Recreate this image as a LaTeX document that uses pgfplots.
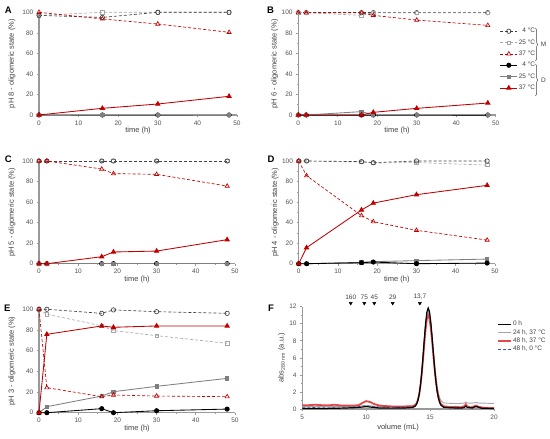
\documentclass[border=0pt]{standalone}
\usepackage{fontspec}
\setmainfont{Liberation Sans}
\usepackage{pgfplots}
\pgfplotsset{compat=1.18}
\usetikzlibrary{decorations.pathreplacing}
\definecolor{mred}{HTML}{C00000}
\definecolor{mdark}{HTML}{404040}
\definecolor{mlight}{HTML}{A6A6A6}
\definecolor{dgray}{HTML}{7F7F7F}
\definecolor{axgray}{HTML}{999999}
\definecolor{tickgray}{HTML}{505050}
\definecolor{fred}{HTML}{E02828}
\definecolor{fblue}{HTML}{3A5BAA}
\newcommand{\tk}{\fontsize{6.5}{7.5}\selectfont}
\newcommand{\lb}{\fontsize{7.5}{8.5}\selectfont}
\pgfplotsset{
 base/.style={
  scale only axis, anchor=south west, clip=false,
  axis x line=bottom, axis y line=left,
  axis line style={-, axgray, line width=1.1pt},
  tick align=outside, major tick length=2.2pt, minor tick length=1.3pt,
  tick style={axgray, line width=0.6pt},
  ticklabel style={font=\tk, text=tickgray},
  label style={font=\lb, text=mdark},
  /pgf/number format/assume math mode=true,
 },
 panel/.style={base,
  xmin=0,xmax=50,ymin=0,ymax=100,
  xtick={0,10,...,50}, ytick={0,20,...,100},
  minor x tick num=1, minor y tick num=1,
  xlabel={time (h)},
  xlabel style={at={(axis description cs:0.5,-0.155)}, anchor=center},
 },
 M4/.style={mdark, densely dashed, line width=0.65pt, mark=o, mark size=2.2pt, mark options={solid, line width=0.65pt}},
 M25/.style={mlight, densely dashed, line width=0.65pt, mark=square, mark size=1.7pt, mark options={solid, line width=0.65pt}},
 M37/.style={mred, densely dashed, line width=0.65pt, mark=triangle, mark size=2.4pt, mark options={solid, line width=0.65pt}},
 D4/.style={black, line width=0.85pt, mark=*, mark size=2.1pt},
 D25/.style={dgray, line width=0.85pt, mark=square*, mark size=1.6pt},
 D37/.style={mred, line width=0.85pt, mark=triangle*, mark size=2.4pt},
}
\begin{document}
\begin{tikzpicture}
\useasboundingbox (0pt,0pt) rectangle (550pt,439pt);

% ---------------- A ----------------
\begin{axis}[panel, at={(39pt,324pt)}, width=198pt, height=102.7pt,
  ylabel={pH 8 - oligomeric state (\%)},
  ylabel style={at={(axis description cs:-0.137,0.5)}, anchor=center}]
\addplot[D4] coordinates {(0,0)(16,0)(30,0)(48,0)};
\addplot[D25] coordinates {(0,0)(16,0)(30,0)(48,0)};
\addplot[D37] coordinates {(0,0)(16,6.5)(30,10.7)(48,18.2)};
\addplot[M25] coordinates {(0,97)(16,100)(30,100)(48,100)};
\addplot[M4] coordinates {(0,97)(16,95)(30,100)(48,100)};
\addplot[M37] coordinates {(0,100)(16,93.5)(30,88.6)(48,80.5)};
\end{axis}

% ---------------- B ----------------
\begin{axis}[panel, at={(298.3pt,324pt)}, width=197.4pt, height=102.3pt,
  ylabel={pH 6 - oligomeric state (\%)},
  ylabel style={at={(axis description cs:-0.12,0.5)}, anchor=center},
  legend style={at={(1.02,0.86)}, anchor=north west, draw=none, fill=none,
    font=\tk, text=mdark, row sep=3.3pt, inner sep=0pt, nodes={inner sep=1pt}},
  legend cell align=right]
\addplot[M4] coordinates {(0,100)(2,100)(16,100)(19,100)(30,100)(48,100)};
\addlegendentry{4 °C}
\addplot[M25] coordinates {(0,100)(2,100)(16,97.4)(19,100)(30,100)(48,100)};
\addlegendentry{25 °C}
\addplot[M37] coordinates {(0,100)(2,100)(16,100)(19,97.4)(30,92.8)(48,87.6)};
\addlegendentry{37 °C}
\addplot[D4] coordinates {(0,0)(2,0)(16,0)(19,0)(30,0)(48,0)};
\addlegendentry{4 °C}
\addplot[D25] coordinates {(0,0)(2,0)(16,3.3)(19,0)(30,0)(48,0)};
\addlegendentry{25 °C}
\addplot[D37] coordinates {(0,0)(2,0)(16,0)(19,2.6)(30,6.5)(48,11.7)};
\addlegendentry{37 °C}
\end{axis}

% ---------------- C ----------------
\begin{axis}[panel, at={(39pt,175.3pt)}, width=196pt, height=102.7pt,
  ylabel={pH 5 - oligomeric state (\%)},
  ylabel style={at={(axis description cs:-0.138,0.5)}, anchor=center}]
\addplot[D4] coordinates {(0,0)(2,0)(16,0)(19,0)(30,0)(48,0)};
\addplot[D25] coordinates {(0,0)(2,0)(16,0)(19,0)(30,0)(48,0)};
\addplot[D37] coordinates {(0,0)(2,0)(16,6.8)(19,11.4)(30,12.3)(48,23.4)};
\addplot[M25] coordinates {(0,100)(2,100)(16,100)(19,100)(30,100)(48,100)};
\addplot[M4] coordinates {(0,100)(2,100)(16,100)(19,100)(30,100)(48,100)};
\addplot[M37] coordinates {(0,100)(2,100)(16,92.2)(19,87.7)(30,87)(48,75.6)};
\end{axis}

% ---------------- D ----------------
\begin{axis}[panel, at={(298.7pt,175.3pt)}, width=196.3pt, height=102.7pt,
  ylabel={pH 4 - oligomeric state (\%)},
  ylabel style={at={(axis description cs:-0.12,0.5)}, anchor=center}]
\addplot[D25] coordinates {(0,0)(2,0)(16,1.3)(19,2)(30,3)(48,4.5)};
\addplot[D4] coordinates {(0,0)(2,0)(16,1)(19,1.6)(30,0)(48,0.6)};
\addplot[D37] coordinates {(0,0)(2,15.6)(16,52.3)(19,59)(30,67.2)(48,76.3)};
\addplot[M25] coordinates {(0,100)(2,100)(16,99)(19,98)(30,98.5)(48,96)};
\addplot[M4] coordinates {(0,100)(2,100)(16,99.4)(19,98.4)(30,100)(48,100)};
\addplot[M37] coordinates {(0,100)(2,85.7)(16,46.8)(19,40.9)(30,32.5)(48,23)};
\end{axis}

% ---------------- E ----------------
\begin{axis}[panel, at={(39pt,26.3pt)}, width=196pt, height=103.4pt,
  ylabel={pH 3 - oligomeric state (\%)},
  ylabel style={at={(axis description cs:-0.138,0.5)}, anchor=center}]
\addplot[D25] coordinates {(0,0)(2,5.8)(16,16.1)(19,20.3)(30,25.5)(48,33.2)};
\addplot[D4] coordinates {(0,0)(2,0)(16,3.9)(19,0)(30,1.9)(48,3.5)};
\addplot[M25] coordinates {(0,100)(2,95.2)(16,84)(19,79.4)(30,74.5)(48,67.1)};
\addplot[D37] coordinates {(0,0)(2,75.8)(16,83.9)(19,82.6)(30,83.9)(48,83.9)};
\addplot[M4] coordinates {(0,100)(2,100)(16,96.1)(19,99.4)(30,97.7)(48,96.1)};
\addplot[M37] coordinates {(0,100)(2,24.2)(16,15.5)(19,17.1)(30,16.1)(48,15.5)};
\end{axis}

% ---------------- F ----------------
\begin{axis}[base, at={(302.3pt,30pt)}, width=191.7pt, height=102.3pt,
  xmin=5, xmax=20, ymin=0, ymax=12,
  xtick={5,10,15,20}, ytick={0,2,...,12},
  minor x tick num=4, minor y tick num=1,
  xlabel={volume (mL)},
  xlabel style={at={(axis description cs:0.5,-0.186)}, anchor=center},
  ylabel={abs\textsubscript{280 nm} (a.u.)},
  ylabel style={at={(axis description cs:-0.107,0.5)}, anchor=center},
  legend style={at={(1.016,0.87)}, anchor=north west, draw=none, fill=none,
    font=\tk, text=mdark, row sep=0pt, inner sep=0pt, nodes={inner sep=1pt}},
  legend cell align=left,
  legend image code/.code={\draw[#1] (0pt,0pt) -- (13pt,0pt);}]
\addlegendimage{black, line width=1.2pt}
\addlegendentry{0 h}
\addlegendimage{mlight, line width=0.9pt}
\addlegendentry{24 h, 37 °C}
\addlegendimage{fred, line width=1.8pt, opacity=0.85}
\addlegendentry{48 h, 37 °C}
\addlegendimage{fblue, densely dashed, line width=0.6pt}
\addlegendentry{48 h, 0 °C}
% 24 h, 37 C (grey)
\addplot[forget plot, mlight, line width=0.9pt] coordinates {
(5,0.3)(6,0.3)(7,0.32)(8,0.3)(9,0.3)(9.5,0.35)(10,0.42)(10.5,0.35)(11,0.3)(12,0.25)(13,0.27)
(13.65,0.33)(13.85,0.49)(13.95,0.71)(14.05,1.12)(14.15,1.81)(14.25,2.88)(14.35,4.33)(14.45,6.12)(14.55,8.06)(14.65,9.81)(14.75,11.05)(14.85,11.5)
(14.95,11.13)(15.05,10.10)(15.15,8.59)(15.25,6.89)(15.35,5.22)(15.45,3.76)(15.55,2.64)(15.65,1.83)(15.75,1.31)(15.85,0.99)(16.05,0.72)
(16.3,0.68)(16.8,0.65)(17.3,0.65)(17.7,0.7)(17.8,0.8)(17.95,0.7)(18.3,0.68)(18.6,0.78)(18.8,0.7)(19.3,0.68)(20,0.65)};
% 48 h, 37 C (red)
\addplot[forget plot, fred, line width=1.8pt, opacity=0.85] coordinates {
(5,0.45)(5.5,0.45)(6,0.5)(6.5,0.45)(7,0.42)(7.5,0.5)(8,0.42)(8.5,0.4)(9,0.4)(9.4,0.45)(9.7,0.7)(10,0.92)(10.3,0.82)(10.6,0.6)(11,0.42)(11.5,0.35)(12,0.3)(13,0.3)(13.4,0.32)
(13.65,0.33)(13.85,0.48)(13.95,0.69)(14.05,1.09)(14.15,1.74)(14.25,2.76)(14.35,4.15)(14.45,5.86)(14.55,7.72)(14.65,9.38)(14.75,10.57)(14.85,11.0)
(14.95,10.59)(15.05,9.57)(15.15,8.08)(15.25,6.40)(15.35,4.75)(15.45,3.32)(15.55,2.21)(15.65,1.42)(15.75,0.90)(15.85,0.58)(16.05,0.32)
(16.3,0.28)(16.6,0.22)(17,0.25)(17.4,0.2)(17.7,0.35)(17.8,0.55)(17.9,0.3)(18.2,0.18)(18.5,0.35)(18.6,0.4)(18.8,0.25)(19.2,0.15)(20,0.1)};
% 48 h, 0 C (blue dashed)
\addplot[forget plot, fblue, densely dashed, line width=0.6pt] coordinates {
(5,0.15)(6,0.18)(7,0.2)(8,0.22)(9,0.25)(9.5,0.3)(10,0.38)(10.5,0.3)(11,0.22)(12,0.2)(13,0.2)
(13.65,0.23)(13.85,0.39)(13.95,0.62)(14.05,1.04)(14.15,1.75)(14.25,2.85)(14.35,4.34)(14.45,6.18)(14.55,8.17)(14.65,9.96)(14.75,11.24)(14.85,11.7)
(14.95,11.28)(15.05,10.13)(15.15,8.47)(15.25,6.59)(15.35,4.78)(15.45,3.25)(15.55,2.08)(15.65,1.27)(15.75,0.75)(15.85,0.45)(16.05,0.21)
(16.3,0.18)(16.5,0.15)(17,0.12)(17.5,0.12)(17.7,0.2)(17.8,0.33)(17.9,0.2)(18.3,0.12)(18.55,0.27)(18.7,0.24)(19,0.1)(20,0.05)};
% 0 h (black)
\addplot[forget plot, black, line width=1.2pt] coordinates {
(5,0.05)(6,0.05)(7,0.07)(8,0.1)(9,0.15)(9.5,0.2)(10,0.28)(10.5,0.2)(11,0.12)(12,0.1)(13,0.12)
(13.65,0.18)(13.85,0.35)(13.95,0.58)(14.05,1.01)(14.15,1.73)(14.25,2.84)(14.35,4.36)(14.45,6.23)(14.55,8.26)(14.65,10.08)(14.75,11.38)(14.85,11.85)
(14.95,11.43)(15.05,10.26)(15.15,8.57)(15.25,6.68)(15.35,4.85)(15.45,3.29)(15.55,2.10)(15.65,1.28)(15.75,0.76)(15.85,0.45)(16.05,0.21)
(16.3,0.18)(16.5,0.15)(17,0.12)(17.5,0.12)(17.7,0.2)(17.8,0.35)(17.9,0.2)(18.3,0.12)(18.55,0.28)(18.7,0.25)(19,0.1)(20,0.05)};
% size markers
\addplot[forget plot, only marks, mark=triangle*, mark size=1.8pt,
  mark options={rotate=180, black},
  nodes near coords, point meta=explicit symbolic,
  nodes near coords style={font=\tk, text=mdark, anchor=south, yshift=0.5pt}]
  coordinates {(8.79,12.4)[160] (9.85,12.4)[75] (10.63,12.4)[45] (12.07,12.4)[29] (14.2,12.4)[13{,}7]};
\end{axis}

% braces of the legend
\draw[decorate, decoration={brace, amplitude=2.2pt}, mdark, line width=0.45pt] (535.5pt,411pt) -- (535.5pt,378pt);
\node[font=\tk, text=mdark] at (543.5pt,394.5pt) {M};
\draw[decorate, decoration={brace, amplitude=2.2pt}, mdark, line width=0.45pt] (535.5pt,375pt) -- (535.5pt,343pt);
\node[font=\tk, text=mdark] at (543.5pt,359pt) {D};

% panel letters
\node[font=\fontsize{9.5}{10}\selectfont\bfseries] at (8.3pt,429pt) {A};
\node[font=\fontsize{9.5}{10}\selectfont\bfseries] at (270.5pt,429pt) {B};
\node[font=\fontsize{9.5}{10}\selectfont\bfseries] at (8.3pt,280pt) {C};
\node[font=\fontsize{9.5}{10}\selectfont\bfseries] at (271pt,280pt) {D};
\node[font=\fontsize{9.5}{10}\selectfont\bfseries] at (7.3pt,131pt) {E};
\node[font=\fontsize{9.5}{10}\selectfont\bfseries] at (271pt,131pt) {F};
\end{tikzpicture}
\end{document}
